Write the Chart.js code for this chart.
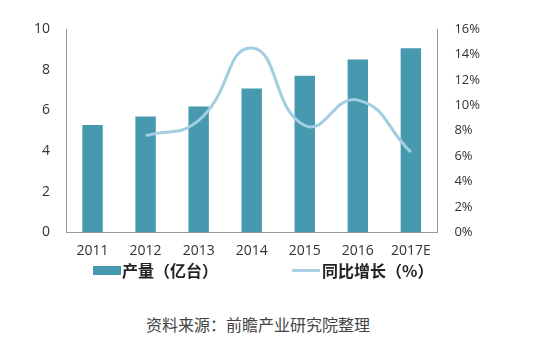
<!DOCTYPE html>
<html><head><meta charset="utf-8">
<script src="https://cdn.jsdelivr.net/npm/chart.js@4/dist/chart.umd.min.js"></script>
<style>
html,body{margin:0;padding:0;background:#fff;}
#wrap{position:relative;width:536px;height:355px;}
#cv{position:absolute;left:0;top:0;}
#legend{position:absolute;top:259px;left:0;width:536px;height:22px;font-family:"Noto Sans CJK SC",sans-serif;font-weight:bold;font-size:16px;color:#222;}
.li{position:absolute;top:0;display:flex;align-items:center;height:22px;}
.sw{display:inline-block;width:28px;height:9px;background:#4699ae;margin-right:1px;}
.ln{display:inline-block;width:28px;height:3px;background:#a9d0e0;margin-right:2px;}
#src{position:absolute;top:312px;left:-20px;width:556px;text-align:left;padding-left:166px;box-sizing:border-box;font-family:"Noto Sans CJK SC",sans-serif;font-size:16px;color:#444;}
</style></head>
<body><div id="wrap">
<canvas id="cv" width="536" height="269"></canvas>
<div id="legend"></div>
<div id="src">资料来源：前瞻产业研究院整理</div>
</div>
<script>
const categories = ["2011","2012","2013","2014","2015","2016","2017E"];
const outputValues = [5.28,5.69,6.18,7.07,7.70,8.50,9.05];
const growthValues = [null,7.6,8.8,14.5,8.4,10.4,6.3];
const seriesNames = ["产量（亿台）","同比增长（%）"];

const lg = document.getElementById('legend');
lg.innerHTML = '<div class="li" style="left:93px"><span class="sw"></span>'+seriesNames[0]+'</div>'+
               '<div class="li" style="left:292px"><span class="ln"></span>'+seriesNames[1]+'</div>';

new Chart(document.getElementById('cv'), {
  data: {
    labels: categories,
    datasets: [
      {type:'line', label:seriesNames[1], data:growthValues, yAxisID:'y1',
       borderColor:'#a3cde0', borderWidth:3, pointRadius:0, tension:0.5, spanGaps:true, order:0},
      {type:'bar', label:seriesNames[0], data:outputValues, yAxisID:'y',
       backgroundColor:'#4699ae', barPercentage:0.74, categoryPercentage:0.52, order:1}
    ]
  },
  options: {
    responsive:false, animation:false,
    layout:{padding:{left:18,right:39,top:29,bottom:0}},
    plugins:{legend:{display:false}, tooltip:{enabled:false}},
    scales:{
      x:{grid:{display:false, drawTicks:false}, border:{color:'#999'},
         ticks:{color:'#333', font:{family:'Open Sans', size:14}, padding:10}},
      y:{min:0,max:10, position:'left', grid:{display:false, drawTicks:false}, border:{color:'#999'},
         ticks:{stepSize:2, color:'#333', font:{family:'Open Sans', size:14}, padding:16}},
      y1:{min:0,max:16, position:'right', grid:{display:false, drawTicks:false}, border:{color:'#999'},
         ticks:{stepSize:2, color:'#333', font:{family:'Open Sans', size:13}, padding:17, callback:v=>v+'%'}}
    }
  }
});
</script>
</body></html>
